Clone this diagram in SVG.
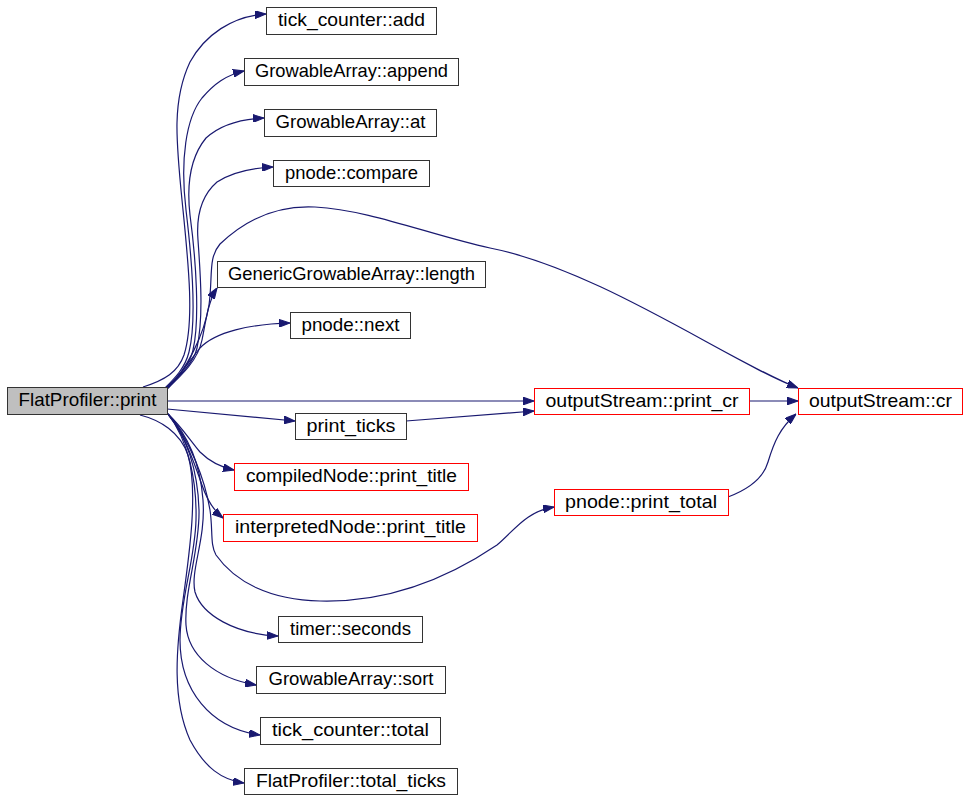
<svg xmlns="http://www.w3.org/2000/svg" width="970" height="802" viewBox="0 0 970 802">
<style>
.n rect{fill:#fff;stroke:#333;stroke-width:1}
.n.r rect{stroke:#f00}
.n.s rect{fill:#bfbfbf}
.n text{font-family:"Liberation Sans",Arial,sans-serif;font-size:18.5px;fill:#000;text-anchor:middle}
.e path{fill:none;stroke:#191970;stroke-width:1.2;marker-end:url(#ah)}
</style>
<defs>
<marker id="ah" markerUnits="userSpaceOnUse" viewBox="0 0 10 7" refX="10" refY="3.5" markerWidth="11" markerHeight="8" orient="auto">
<path d="M0,0 L10,3.5 L0,7 z" fill="#191970" stroke="#191970"/>
</marker>
</defs>
<rect width="970" height="802" fill="#fff"/>
<g id="edges" class="e">
<path d="M143,387 C165,380 178,372 184,355 C195,320 188,260 182,200 C176,140 172,100 190,62 C205,35 232,16 266,14"/>
<path d="M165,388 C175,378 185,368 189,352 C197,320 192,260 186,210 C180,160 186,118 202,98 C214,84 226,75 244,71"/>
<path d="M166,388 C178,376 190,365 193,350 C200,320 196,260 190,215 C186,180 192,155 206,138 C220,125 240,119 264,118"/>
<path d="M167,388 C180,376 194,362 197,348 C204,315 200,270 198,240 C196,215 202,195 217,182 C232,172 250,168 273,167"/>
<path d="M167,389 C182,375 198,360 202,340 C206,320 208,302 217,288"/>
<path d="M168,388 C186,370 204,336 209,305 C213,275 208,258 220,244 C245,220 275,205 315,207 C370,210 430,235 490,248 C600,270 730,362 798,388"/>
<path d="M168,388 C180,375 192,358 200,348 C215,332 250,324 290,323"/>
<path d="M167,401 L534,401"/>
<path d="M167,409 L295,421"/>
<path d="M406,421 L534,411"/>
<path d="M749,401 L798,401"/>
<path d="M728,497 C752,488 764,476 768,462 C774,442 780,428 796,414"/>
<path d="M168,414 C180,425 190,440 200,452 C210,462 220,467 234,470"/>
<path d="M168,414 C185,435 195,465 202,485 C207,500 213,510 223,518"/>
<path d="M168,414 C190,440 205,480 210,510 C213,530 210,545 216,555 C235,582 270,600 320,601 C400,603 460,570 497,545 C515,530 525,512 554,507"/>
<path d="M168,414 C185,432 200,460 203,500 C206,540 190,570 195,592 C202,615 235,634 278,636"/>
<path d="M168,414 C186,435 198,470 199,510 C200,550 184,590 186,625 C188,655 215,678 256,685"/>
<path d="M168,414 C188,440 197,480 196,520 C195,560 180,600 180,640 C180,690 210,728 260,735"/>
<path d="M140,415 C160,420 180,432 188,455 C198,490 190,550 183,600 C176,650 172,700 190,740 C205,768 222,780 244,783"/>
</g>
<g id="n_print" class="n s"><rect x="7.5" y="387.5" width="160" height="27"/><text x="87.5" y="406" textLength="138" lengthAdjust="spacingAndGlyphs">FlatProfiler::print</text></g>
<g id="n_add" class="n"><rect x="266.5" y="7.5" width="170" height="27"/><text x="351.5" y="26" textLength="147" lengthAdjust="spacingAndGlyphs">tick_counter::add</text></g>
<g id="n_append" class="n"><rect x="244.5" y="58.5" width="214" height="27"/><text x="351.5" y="77" textLength="193" lengthAdjust="spacingAndGlyphs">GrowableArray::append</text></g>
<g id="n_at" class="n"><rect x="264.5" y="109.5" width="172" height="27"/><text x="350.5" y="128" textLength="150" lengthAdjust="spacingAndGlyphs">GrowableArray::at</text></g>
<g id="n_compare" class="n"><rect x="273.5" y="160.5" width="156" height="26"/><text x="351.5" y="178.5" textLength="133" lengthAdjust="spacingAndGlyphs">pnode::compare</text></g>
<g id="n_length" class="n"><rect x="217.5" y="261.5" width="268" height="26"/><text x="351.5" y="280" textLength="247" lengthAdjust="spacingAndGlyphs">GenericGrowableArray::length</text></g>
<g id="n_next" class="n"><rect x="290.5" y="312.5" width="120" height="26"/><text x="350.5" y="331" textLength="98" lengthAdjust="spacingAndGlyphs">pnode::next</text></g>
<g id="n_print_ticks" class="n"><rect x="295.5" y="413.5" width="111" height="26"/><text x="351" y="432" textLength="89" lengthAdjust="spacingAndGlyphs">print_ticks</text></g>
<g id="n_compiled" class="n r"><rect x="234.5" y="463.5" width="234" height="27"/><text x="351.5" y="482" textLength="211" lengthAdjust="spacingAndGlyphs">compiledNode::print_title</text></g>
<g id="n_interpreted" class="n r"><rect x="223.5" y="514.5" width="254" height="27"/><text x="350.5" y="533" textLength="231" lengthAdjust="spacingAndGlyphs">interpretedNode::print_title</text></g>
<g id="n_seconds" class="n"><rect x="278.5" y="616.5" width="144" height="26"/><text x="350.5" y="634.5" textLength="121" lengthAdjust="spacingAndGlyphs">timer::seconds</text></g>
<g id="n_sort" class="n"><rect x="256.5" y="666.5" width="189" height="27"/><text x="351" y="685" textLength="165" lengthAdjust="spacingAndGlyphs">GrowableArray::sort</text></g>
<g id="n_total" class="n"><rect x="260.5" y="717.5" width="180" height="27"/><text x="350.5" y="736" textLength="157" lengthAdjust="spacingAndGlyphs">tick_counter::total</text></g>
<g id="n_total_ticks" class="n"><rect x="244.5" y="768.5" width="213" height="26"/><text x="351" y="787" textLength="190" lengthAdjust="spacingAndGlyphs">FlatProfiler::total_ticks</text></g>
<g id="n_print_cr" class="n r"><rect x="534.5" y="388.5" width="215" height="26"/><text x="642" y="407" textLength="193" lengthAdjust="spacingAndGlyphs">outputStream::print_cr</text></g>
<g id="n_cr" class="n r"><rect x="798.5" y="388.5" width="164" height="26"/><text x="880.5" y="407" textLength="143" lengthAdjust="spacingAndGlyphs">outputStream::cr</text></g>
<g id="n_print_total" class="n r"><rect x="554.5" y="489.5" width="174" height="26"/><text x="641" y="508" textLength="152" lengthAdjust="spacingAndGlyphs">pnode::print_total</text></g>
</svg>
